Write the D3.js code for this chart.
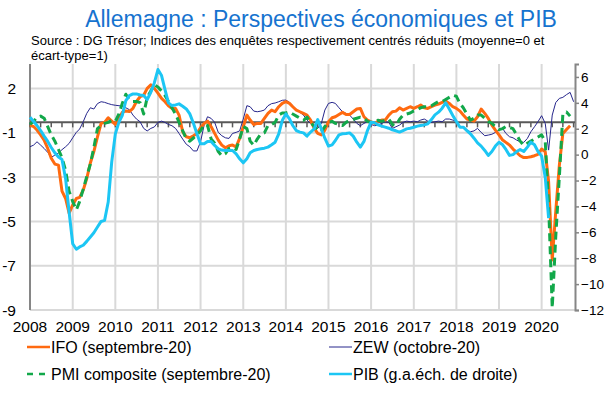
<!DOCTYPE html>
<html>
<head>
<meta charset="utf-8">
<script src="https://cdn.jsdelivr.net/npm/d3@7"></script>
<style>
  body { margin: 0; background: #fff; }
  text { font-family: "Liberation Sans", Arial, sans-serif; }
</style>
</head>
<body>
<svg width="605" height="395"></svg>
<script>

// monthly series, starting january 2008
var startYear = 2008;
var ifo = [-0.13, -0.2, -0.37, -0.6, -0.85, -1.25, -1.72, -2.0, -2.05, -3.3, -3.65, -4.35, -3.96, -3.65, -3.6, -3.25, -2.7, -1.95, -1.4, -0.7,
    -0.05, 0.0, 0.22, 0.06, -0.1, 0.2, 0.48, 0.55, 0.52, 0.67, 1.0, 1.23, 1.3, 1.63, 1.8, 1.63, 1.4, 1.15, 1.0, 0.8,
    0.67, 0.67, 0.35, -0.45, -0.69, -0.74, -0.64, -0.53, -0.26, -0.05, 0.06, -0.21, -0.53, -0.85, -1.09, -1.22, -1.12, -1.09, -1.17, -0.77,
    -0.21, 0.35, 0.11, -0.1, -0.05, -0.05, 0.19, 0.43, 0.59, 0.51, 0.75, 0.91, 0.99, 0.91, 0.75, 0.59, 0.51, 0.43,
    0.35, 0.11, -0.29, -0.53, -0.6, -0.37, 0.03, 0.22, 0.27, 0.38, 0.48, 0.38, 0.38, 0.51, 0.64, 0.67, 0.27, 0.11, 0.03, -0.05,
    0.06, 0.11, 0.11, 0.35, 0.51, 0.54, 0.7, 0.59, 0.67, 0.75, 0.67, 0.75, 0.83, 0.7, 0.67, 0.75, 0.83, 0.88,
    0.96, 1.02, 0.91, 0.75, 0.67, 0.54, 0.35, 0.16, 0.11, 0.06, 0.27, 0.64, 0.43, 0.19, -0.13, -0.37, -0.6, -0.85, -0.96, -1.09,
    -1.28, -1.44, -1.6, -1.69, -1.68, -1.65, -1.6, -1.53, -1.28, -1.41, -2.85, -6.6, -4.28, -2.05, -0.53, -0.34, -0.16];

var zew = [-1.17, -1.09, -0.93, -1.09, -1.25, -1.44, -1.68, -1.57, -1.47, -1.31, -1.17, -1.01, -0.74, -0.48, -0.32, 0.03, 0.43, 0.7, 0.64, 0.9,
    0.99, 0.96, 0.9, 0.85, 0.82, 0.8, 0.77, 0.7, 0.61, 0.35, 0.16, 0.03, -0.29, -0.41, -0.29, -0.22, 0.0, 0.06, 0.0, -0.1,
    -0.16, -0.29, -0.53, -0.8, -1.05, -1.17, -1.37, -1.37, -0.93, -0.13, 0.27, 0.19, 0.0, -0.48, -0.64, -0.74, -0.77, -0.53, -0.48, -0.41,
    0.16, 0.8, 0.75, 0.54, 0.51, 0.54, 0.59, 0.8, 0.9, 0.93, 0.99, 1.06, 1.07, 0.96, 0.8, 0.59, 0.48, 0.35,
    0.11, -0.05, -0.16, -0.29, -0.05, 0.59, 0.91, 0.96, 0.91, 0.7, 0.51, 0.43, 0.35, 0.16, -0.05, -0.16, -0.05, 0.03, -0.1, -0.16,
    -0.13, -0.05, 0.03, 0.0, -0.29, -0.21, -0.13, 0.0, 0.06, 0.03, 0.06, 0.03, 0.11, 0.16, 0.06, 0.0, 0.03, 0.06,
    0.03, 0.16, 0.16, 0.11, 0.06, -0.21, -0.26, -0.37, -0.45, -0.41, -0.29, -0.48, -0.64, -0.61, -0.57, -0.48, -0.37, -0.29, -0.53, -0.69,
    -0.74, -0.85, -0.93, -0.96, -0.77, -0.45, -0.21, 0.03, 0.32, -0.05, -1.33, 0.35, 0.95, 1.15, 1.2, 1.33, 1.44, 0.99];

var pmi = [-0.1, 0.05, 0.25, 0.3, 0.2, -0.2, -0.6, -0.9, -1.3, -1.7, -2.3, -3.3, -3.8, -4.2, -3.8, -3.2, -2.6, -2.0, -1.2, -0.3,
    -0.15, -0.05, 0.0, 0.1, 0.05, 0.4, 0.9, 1.35, 1.1, 1.0, 1.0, 0.95, 0.4, 1.2, 1.5, 1.8, 1.7, 1.5, 1.3, 1.0,
    0.7, 0.4, 0.0, -0.4, -0.8, -0.9, -0.75, -0.6, -0.4, -0.1, -0.15, -0.8, -1.0, -1.4, -1.6, -1.5, -1.25, -1.2, -1.3, -0.8,
    -0.2, -0.3, -0.9, -1.1, -0.8, -0.55, -0.5, -0.15, -0.1, 0.0, 0.35, 0.45, 0.45, 0.5, 0.4, 0.3, 0.2, 0.1,
    0.25, 0.0, -0.2, -0.35, -0.45, -0.2, 0.0, 0.05, -0.05, -0.1, -0.15, 0.0, 0.1, 0.15, 0.2, 0.25, 0.2, 0.05, 0.0, 0.05,
    0.1, 0.05, 0.1, 0.15, -0.1, -0.15, 0.15, 0.35, 0.4, 0.45, 0.55, 0.6, 0.7, 0.75, 0.75, 0.8, 0.9, 1.0,
    1.0, 1.1, 1.2, 1.3, 1.25, 0.9, 0.7, 0.4, 0.1, 0.2, 0.35, 0.35, 0.2, 0.05, -0.05, -0.2, -0.35, -0.3, -0.2, -0.25,
    -0.3, -0.6, -0.9, -1.1, -1.0, -0.9, -0.8, -0.7, -0.6, -0.9, -4.0, -8.9, -5.5, -2.6, 0.4, 0.5, 0.3];

// PIB, g.a., right axis
var pib = [2.89, 2.56, 2.25, 1.86, 1.43, 1.02, 0.55, 0.14, -0.19, -0.37, -1.86, -4.43, -6.88, -7.31, -7.13, -7.0, -6.7, -6.36, -6.03, -5.59,
    -5.16, -5.08, -3.66, -0.58, 1.6, 2.51, 3.02, 4.17, 4.56, 4.69, 4.69, 4.61, 4.56, 4.25, 4.82, 5.54, 6.57, 6.11, 5.08, 4.0,
    3.79, 3.84, 3.92, 3.74, 3.53, 3.15, 2.43, 1.61, 0.84, 0.84, 1.02, 1.02, 0.71, 0.45, 0.35, 0.32, 0.32, 0.32, 0.06, -0.32,
    -0.63, -0.32, 0.14, 0.32, 0.4, 0.45, 0.5, 0.58, 0.76, 0.96, 1.61, 2.63, 3.15, 2.76, 2.25, 1.86, 1.74, 1.68,
    1.43, 1.74, 1.99, 2.71, 1.99, 1.27, 0.66, 0.76, 1.09, 1.53, 1.61, 1.63, 1.68, 1.43, 0.96, 0.58, 1.02, 1.86, 2.51, 2.46,
    2.3, 2.2, 2.12, 2.04, 1.92, 1.84, 1.74, 1.86, 1.99, 2.04, 2.12, 2.2, 2.25, 2.3, 2.38, 2.71, 3.07, 3.28,
    3.59, 4.0, 3.53, 3.02, 2.56, 2.12, 2.12, 1.86, 1.61, 1.27, 0.91, 0.66, 0.32, -0.06, 0.24, 0.66, 0.96, 0.76, 0.4, -0.06,
    0.0, 0.24, 0.4, 0.24, 0.58, 0.96, 0.76, 0.24, -0.12, -1.74, -4.9];

var years = [2008, 2009, 2010, 2011, 2012, 2013, 2014, 2015, 2016, 2017, 2018, 2019, 2020];
// left axis: ticks every 2.125 from -9, shown rounded
var leftTicks = [-9, -6.875, -4.75, -2.625, -0.5, 1.625];
var leftLabels = ["-9", "-7", "-5", "-3", "-1", "2"];
var rightTicks = [-12, -10, -8, -6, -4, -2, 0, 2, 4, 6];

var series = [
    { name: "ZEW (octobre-20)", values: zew, axis: "left", color: "#26268c", width: 1, dash: null },
    { name: "IFO (septembre-20)", values: ifo, axis: "left", color: "#ff6a10", width: 3, dash: null },
    { name: "PMI composite (septembre-20)", values: pmi, axis: "left", color: "#12a84a", width: 3, dash: "8,5" },
    { name: "PIB (g.a.éch. de droite)", values: pib, axis: "right", color: "#1cc6f4", width: 3, dash: null }
];

var svg = d3.select("svg");
var plot = { left: 30, right: 575, top: 64, bottom: 310 };

var x = d3.scaleTime()
    .domain([new Date(2008, 0, 1), new Date(2020, 9, 13)])
    .range([plot.left, plot.right]);
var yL = d3.scaleLinear().domain([-9, 2.8]).range([plot.bottom, plot.top]);
var yR = d3.scaleLinear().domain([-12, 7]).range([plot.bottom, plot.top]);

function monthDate(i) { return new Date(startYear, i, 1); }

// title
svg.append("text")
    .attr("x", 321).attr("y", 27)
    .attr("text-anchor", "middle")
    .attr("font-size", "23px")
    .attr("fill", "#1673cf")
    .text("Allemagne : Perspectives économiques et PIB");

svg.append("text")
    .attr("x", 31).attr("y", 45)
    .attr("font-size", "13px")
    .attr("fill", "#000")
    .text("Source : DG Trésor; Indices des enquêtes respectivement centrés réduits (moyenne=0 et");
svg.append("text")
    .attr("x", 31).attr("y", 60)
    .attr("font-size", "13px")
    .attr("fill", "#000")
    .text("écart-type=1)");

// gridlines
var grid = svg.append("g").attr("class", "grid");
grid.selectAll("line.h")
    .data(leftTicks)
    .enter().append("line")
    .attr("x1", plot.left).attr("x2", plot.right)
    .attr("y1", function (d) { return yL(d); })
    .attr("y2", function (d) { return yL(d); })
    .attr("stroke", "#d9d9d9").attr("stroke-width", 2);
grid.selectAll("line.v")
    .data(years.slice(1))
    .enter().append("line")
    .attr("x1", function (d) { return x(new Date(d, 0, 1)); })
    .attr("x2", function (d) { return x(new Date(d, 0, 1)); })
    .attr("y1", plot.top).attr("y2", plot.bottom)
    .attr("stroke", "#d9d9d9").attr("stroke-width", 2);

// left axis
svg.append("line")
    .attr("x1", plot.left).attr("x2", plot.left)
    .attr("y1", plot.top).attr("y2", plot.bottom)
    .attr("stroke", "#868686").attr("stroke-width", 2);
svg.append("g").selectAll("text")
    .data(leftTicks)
    .enter().append("text")
    .attr("x", 16)
    .attr("y", function (d) { return yL(d); })
    .attr("dy", "0.36em")
    .attr("text-anchor", "end")
    .attr("font-size", "15.5px")
    .text(function (d, i) { return leftLabels[i]; });

// right axis
var rightAxis = d3.axisRight(yR)
    .tickValues(rightTicks)
    .tickSize(4)
    .tickPadding(2);
var gR = svg.append("g")
    .attr("transform", "translate(" + plot.right + ",0)")
    .call(rightAxis);
gR.select(".domain").attr("stroke", "#868686").attr("stroke-width", 2);
gR.selectAll(".tick line").attr("stroke", "#868686").attr("stroke-width", 1.5);
gR.selectAll(".tick text")
    .attr("font-family", "Liberation Sans, Arial, sans-serif")
    .attr("font-size", "13.5px")
    .attr("fill", "#000");

// year labels
svg.append("g").selectAll("text")
    .data(years)
    .enter().append("text")
    .attr("x", function (d) { return x(new Date(d, 0, 1)); })
    .attr("y", 332)
    .attr("text-anchor", "middle")
    .attr("font-size", "15.5px")
    .text(function (d) { return d; });

// zero line with quarterly ticks
svg.append("line")
    .attr("x1", plot.left).attr("x2", plot.right)
    .attr("y1", yL(0)).attr("y2", yL(0))
    .attr("stroke", "#595959").attr("stroke-width", 2);
svg.append("g").selectAll("line")
    .data(d3.timeMonth.every(3).range(new Date(2008, 0, 1), new Date(2020, 9, 13)))
    .enter().append("line")
    .attr("x1", function (d) { return x(d); })
    .attr("x2", function (d) { return x(d); })
    .attr("y1", yL(0)).attr("y2", yL(0) + 5)
    .attr("stroke", "#595959").attr("stroke-width", 1.5);

// series
var lines = svg.append("g").attr("class", "lines");
series.forEach(function (s) {
    var yS = s.axis === "left" ? yL : yR;
    var line = d3.line()
        .x(function (d, i) { return x(monthDate(i)); })
        .y(function (d) { return yS(d); });
    lines.append("path")
        .datum(s.values)
        .attr("d", line)
        .attr("fill", "none")
        .attr("stroke", s.color)
        .attr("stroke-width", s.width)
        .attr("stroke-linejoin", "round")
        .attr("stroke-dasharray", s.dash);
});

// legend
var legendPos = [
    { s: 1, x: 27, y: 347 },
    { s: 0, x: 329, y: 347 },
    { s: 2, x: 27, y: 374 },
    { s: 3, x: 329, y: 374 }
];
var legend = svg.append("g").attr("class", "legend");
legendPos.forEach(function (p) {
    var s = series[p.s];
    legend.append("line")
        .attr("x1", p.x).attr("x2", p.x + 23)
        .attr("y1", p.y).attr("y2", p.y)
        .attr("stroke", s.color)
        .attr("stroke-width", s.width === 1 ? 1 : 2.5)
        .attr("stroke-dasharray", s.dash ? "6,6" : null);
    legend.append("text")
        .attr("x", p.x + 24)
        .attr("y", p.y)
        .attr("dy", "0.36em")
        .attr("font-size", "16px")
        .text(s.name);
});
</script>
</body>
</html>
